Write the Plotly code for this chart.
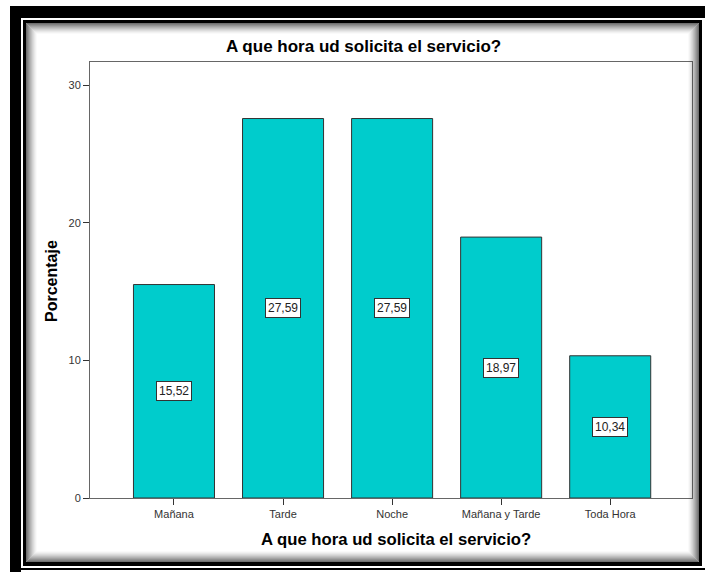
import plotly.graph_objects as go

# Survey: time of day the service is requested (percent of respondents)
categories = ["Mañana", "Tarde", "Noche", "Mañana y Tarde", "Toda Hora"]
percentages = [15.52, 27.59, 27.59, 18.97, 10.34]
y_ticks = [0, 10, 20, 30]

title_text = "A que hora ud solicita el servicio?"
x_title = "A que hora ud solicita el servicio?"
y_title = "Porcentaje"

W, H = 705, 572
# plot area in pixels
PL, PR, PT, PB = 90, 692, 62, 498
FONT = "Arial, Liberation Sans, sans-serif"


def px_x(px):
    return (px - PL) / (PR - PL)


def px_y(py):
    return (PB - py) / (PB - PT)


def rect(x0, y0, x1, y1, fill=None, line=None, lw=0):
    d = dict(type="rect", xref="paper", yref="paper",
             x0=px_x(x0), x1=px_x(x1), y0=px_y(y1), y1=px_y(y0),
             layer="above")
    d["fillcolor"] = fill if fill else "rgba(0,0,0,0)"
    d["line"] = dict(color=line if line else "rgba(0,0,0,0)", width=lw)
    return d


shapes = []
# outer heavy frame
shapes.append(rect(10, 6, 705, 18, fill="black"))      # top band
shapes.append(rect(10, 6, 21, 572, fill="black"))      # left band
shapes.append(rect(10, 568, 705, 570, fill="black"))   # bottom thin line
# inner frame (4 sides)
shapes.append(rect(23, 20, 702, 23, fill="black"))
shapes.append(rect(23, 20, 26, 566, fill="black"))
shapes.append(rect(699, 20, 702, 566, fill="black"))
shapes.append(rect(23, 562, 702, 566, fill="black"))
# soft inner shadow along the inner frame
for i in range(11):
    a = 0.7 * (1 - i / 11) ** 1.4
    shapes.append(rect(26.5 + i, 23.5 + i, 698.5 - i, 561.5 - i,
                       line=f"rgba(50,50,50,{a:.3f})", lw=1))

annotations = []
for c, v in zip(categories, percentages):
    annotations.append(dict(
        x=c, y=v / 2, xref="x", yref="y",
        text=f"{v:.2f}".replace(".", ","),
        showarrow=False, bgcolor="white", bordercolor="#333333",
        borderwidth=1, borderpad=2,
        font=dict(family=FONT, size=12, color="#222222"),
    ))

annotations.append(dict(
    x=px_x(363), y=px_y(47), xref="paper", yref="paper",
    text=f"<b>{title_text}</b>", showarrow=False,
    font=dict(family=FONT, size=17, color="black"),
    xanchor="center", yanchor="middle",
))
annotations.append(dict(
    x=px_x(396), y=px_y(539), xref="paper", yref="paper",
    text=f"<b>{x_title}</b>", showarrow=False,
    font=dict(family=FONT, size=16.7, color="black"),
    xanchor="center", yanchor="middle",
))
annotations.append(dict(
    x=px_x(51), y=px_y(281), xref="paper", yref="paper",
    text=f"<b>{y_title}</b>", showarrow=False, textangle=-90,
    font=dict(family=FONT, size=16, color="black"),
    xanchor="center", yanchor="middle",
))

fig = go.Figure(go.Bar(
    x=categories, y=percentages, width=0.743,
    marker=dict(color="#00CCCC", line=dict(color="#333333", width=1)),
))

fig.update_layout(
    width=W, height=H,
    margin=dict(l=PL, r=W - PR, t=PT, b=H - PB),
    paper_bgcolor="white", plot_bgcolor="white",
    showlegend=False,
    shapes=shapes, annotations=annotations,
    font=dict(family=FONT, size=11, color="#333333"),
)
fig.update_xaxes(
    range=[-0.77, 4.75], showline=True, linecolor="#666666", linewidth=1,
    mirror=True, ticks="outside", ticklen=6, tickcolor="#333333",
    showgrid=False, tickfont=dict(size=11, color="#333333"),
)
fig.update_yaxes(
    range=[0, 31.7], tickvals=y_ticks, showline=True, linecolor="#666666",
    linewidth=1, mirror=True, ticks="outside", ticklen=6, tickcolor="#333333",
    showgrid=False, zeroline=False, tickfont=dict(size=11, color="#333333"),
)

fig.write_html("out.html")
